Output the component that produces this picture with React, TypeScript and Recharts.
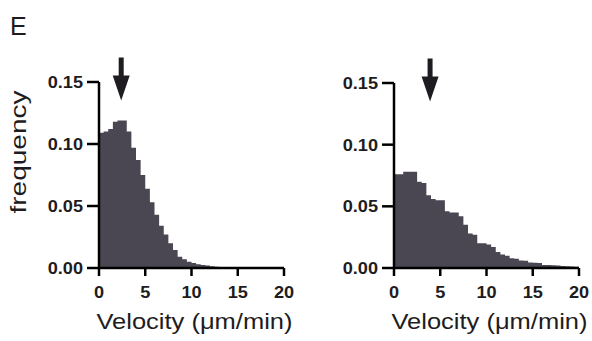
import React from 'react';
import { ComposedChart, Area, XAxis, YAxis, ReferenceDot } from 'recharts';

// Bin left edges (µm/min), bin width 0.5; last entry closes the final bin
const binEdges = [
  0, 0.5, 1, 1.5, 2, 2.5, 3, 3.5, 4, 4.5, 5, 5.5, 6, 6.5, 7, 7.5, 8, 8.5, 9, 9.5,
  10, 10.5, 11, 11.5, 12, 12.5, 13, 13.5, 14, 14.5, 15, 15.5, 16, 16.5, 17, 17.5, 18, 18.5, 19, 19.5, 20,
];

const leftFreq = [
  0.109, 0.110, 0.112, 0.118, 0.119, 0.119, 0.110, 0.097, 0.087, 0.075,
  0.064, 0.053, 0.043, 0.034, 0.027, 0.020, 0.0145, 0.009, 0.007, 0.005,
  0.004, 0.003, 0.0025, 0.002, 0.0014, 0.0011, 0.0009, 0.0008, 0.0007, 0.0006,
  0.0005, 0.0004, 0.0004, 0.0003, 0.0003, 0.0002, 0.0002, 0.0002, 0.0001, 0.0001,
];

const rightFreq = [
  0.076, 0.076, 0.078, 0.078, 0.078, 0.070, 0.069, 0.059, 0.056, 0.055,
  0.055, 0.046, 0.045, 0.045, 0.042, 0.035, 0.028, 0.027, 0.020, 0.020,
  0.019, 0.017, 0.013, 0.011, 0.010, 0.008, 0.0075, 0.006, 0.0058, 0.0045,
  0.0043, 0.004, 0.0025, 0.0024, 0.0022, 0.002, 0.0016, 0.0015, 0.0013, 0.001,
];

const xTicks = [0, 5, 10, 15, 20];
const yTicks = [0, 0.05, 0.1, 0.15];
const leftArrow = { x: 2.4, y: 0.135 };
const rightArrow = { x: 3.9, y: 0.135 };

const xLabel = 'Velocity (\u03bcm/min)';
const yLabel = 'frequency';
const panelLabel = 'E';

const FONT = '"Liberation Sans", Arial, Helvetica, sans-serif';
const BAR = '#4a4652';
const INK = '#1e1c20';

function buildData(freq: number[]) {
  const rows = freq.map((v, i) => ({ x: binEdges[i], v }));
  rows.push({ x: binEdges[freq.length], v: freq[freq.length - 1] });
  return rows;
}

const XTick = (props: any) => {
  const { x, y, payload } = props;
  return (
    <g transform={`translate(${x},${y})`}>
      <text transform="scale(1.1,1)" textAnchor="middle" dy="0.71em" fontFamily={FONT} fontWeight="bold" fontSize={16.5} fill={INK}>
        {String(payload.value)}
      </text>
    </g>
  );
};

const YTick = (props: any) => {
  const { x, y, payload } = props;
  return (
    <g transform={`translate(${x},${y})`}>
      <text transform="scale(1.1,1)" textAnchor="end" dy="0.355em" fontFamily={FONT} fontWeight="bold" fontSize={16.5} fill={INK}>
        {Number(payload.value).toFixed(2)}
      </text>
    </g>
  );
};

const Arrow = (props: any) => {
  const { cx, cy } = props;
  if (cx == null || cy == null) return null;
  const d = `M ${cx - 2.5} ${cy - 43} L ${cx + 2.5} ${cy - 43} L ${cx + 2.5} ${cy - 25} L ${cx + 8.5} ${cy - 25} L ${cx} ${cy} L ${cx - 8.5} ${cy - 25} L ${cx - 2.5} ${cy - 25} Z`;
  return <path d={d} fill={INK} />;
};

const XLabel = (props: any) => {
  const vb = props.viewBox || {};
  const cx = vb.x + vb.width / 2 + 3;
  return (
    <text x={cx} y={329} textAnchor="middle" fontFamily={FONT} fontSize={22.5} fill={INK} textLength={196} lengthAdjust="spacingAndGlyphs">
      {xLabel}
    </text>
  );
};

const axisLine = { stroke: '#000', strokeWidth: 2.5 };

function Panel({ freq, arrow, yAxisWidth, marginRight, marginTop }: any) {
  const data = buildData(freq);
  return (
    <ComposedChart
      width={yAxisWidth + 185 + marginRight}
      height={341}
      data={data}
      margin={{ top: marginTop, right: marginRight, bottom: 0, left: 0 }}
    >
      <XAxis
        dataKey="x"
        type="number"
        domain={[0, 20]}
        ticks={xTicks}
        allowDataOverflow
        axisLine={axisLine}
        tickLine={axisLine}
        tickSize={8}
        tickMargin={10}
        height={341 - 268}
        tick={<XTick />}
        label={<XLabel />}
      />
      <YAxis
        type="number"
        domain={[0, 0.15]}
        ticks={yTicks}
        allowDataOverflow
        axisLine={axisLine}
        tickLine={axisLine}
        tickSize={12}
        tickMargin={4}
        width={yAxisWidth}
        tick={<YTick />}
      />
      <Area
        type="stepAfter"
        dataKey="v"
        stroke="none"
        fill={BAR}
        fillOpacity={1}
        isAnimationActive={false}
        dot={false}
        activeDot={false}
      />
      <ReferenceDot x={arrow.x} y={arrow.y} ifOverflow="visible" shape={<Arrow />} />
    </ComposedChart>
  );
}

export default function App() {
  return (
    <div style={{ position: 'absolute', left: 0, top: 0, width: 592, height: 341, background: '#fff', overflow: 'hidden' }}>
      <div style={{ position: 'absolute', left: 0, top: 0 }}>
        <Panel freq={leftFreq} arrow={leftArrow} yAxisWidth={99} marginRight={16} marginTop={82} />
      </div>
      <div style={{ position: 'absolute', left: 300, top: 0 }}>
        <Panel freq={rightFreq} arrow={rightArrow} yAxisWidth={94} marginRight={13} marginTop={83} />
      </div>
      <svg width={592} height={341} style={{ position: 'absolute', left: 0, top: 0, pointerEvents: 'none' }}>
        <text x={10} y={35} fontFamily={FONT} fontSize={25} fill={INK}>
          {panelLabel}
        </text>
        <text
          transform="translate(26,152) rotate(-90)"
          textAnchor="middle"
          fontFamily={FONT}
          fontSize={22}
          fill={INK}
          textLength={123}
          lengthAdjust="spacingAndGlyphs"
        >
          {yLabel}
        </text>
      </svg>
    </div>
  );
}
